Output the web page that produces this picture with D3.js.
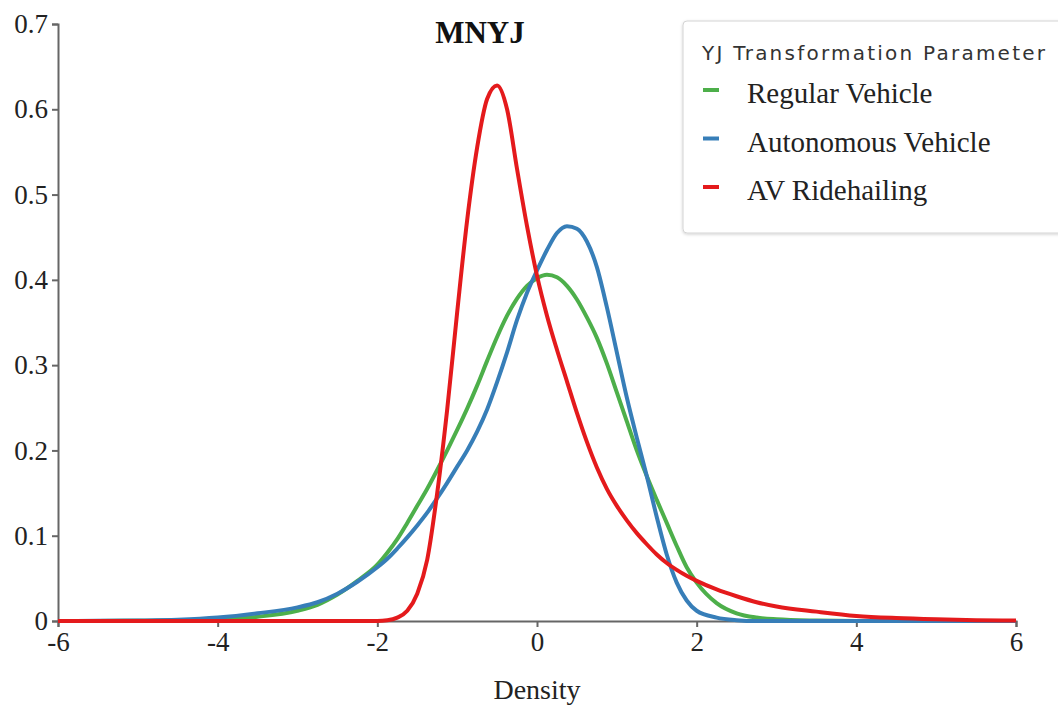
<!DOCTYPE html>
<html>
<head>
<meta charset="utf-8">
<script src="https://cdn.jsdelivr.net/npm/d3@7"></script>
<style>
  body { margin: 0; background: #fff; }
  .tick text { font-family: 'Liberation Serif', 'Times New Roman', serif; font-size: 27px; fill: #222; }
  .domain, .tick line { stroke: #666; stroke-width: 2; }
</style>
</head>
<body>
<svg width="1058" height="711"></svg>
<script>
const svg = d3.select('svg');

// x grid shared by all three density curves
const xGrid = [-6, -5.5, -5, -4.5, -4, -3.5, -3, -2.75, -2.5, -2.25,
  -2, -1.875, -1.75, -1.625, -1.5, -1.375, -1.25, -1.125, -1, -0.875, -0.75, -0.625,
  -0.5, -0.375, -0.25, -0.125, 0, 0.125, 0.25, 0.375, 0.5, 0.625, 0.75, 0.875,
  1, 1.125, 1.25, 1.375, 1.5, 1.625, 1.75, 1.875, 2,
  2.25, 2.5, 2.75, 3, 3.5, 4, 4.5, 5, 5.5, 6];

const regularVehicle = [0, 0, 0.0003, 0.0008, 0.002, 0.005, 0.012, 0.019, 0.031, 0.047,
  0.066, 0.08, 0.096, 0.115, 0.135, 0.155, 0.177, 0.2, 0.224, 0.249, 0.276, 0.305,
  0.333, 0.358, 0.378, 0.393, 0.402, 0.406, 0.403, 0.393, 0.377, 0.356, 0.332, 0.302,
  0.268, 0.234, 0.2, 0.17, 0.142, 0.115, 0.088, 0.063, 0.045,
  0.021, 0.009, 0.004, 0.002, 0.0005, 0, 0, 0, 0, 0];

const autonomousVehicle = [0, 0.0002, 0.0006, 0.0015, 0.004, 0.009, 0.016, 0.022, 0.032, 0.046,
  0.063, 0.073, 0.085, 0.098, 0.112, 0.127, 0.144, 0.162, 0.181, 0.2, 0.222, 0.248,
  0.28, 0.315, 0.353, 0.385, 0.411, 0.435, 0.455, 0.463, 0.46, 0.445, 0.415, 0.368,
  0.315, 0.262, 0.215, 0.17, 0.122, 0.078, 0.045, 0.024, 0.012,
  0.004, 0.001, 0, 0, 0, 0, 0, 0, 0, 0];

const avRidehailing = [0, 0, 0, 0, 0, 0, 0, 0, 0, 0,
  0, 0.0008, 0.004, 0.012, 0.032, 0.072, 0.15, 0.248, 0.362, 0.47, 0.555, 0.612,
  0.628, 0.6, 0.53, 0.463, 0.405, 0.358, 0.318, 0.281, 0.244, 0.21, 0.18, 0.155,
  0.135, 0.118, 0.103, 0.09, 0.078, 0.068, 0.06, 0.053, 0.047,
  0.037, 0.029, 0.022, 0.017, 0.011, 0.006, 0.0035, 0.002, 0.001, 0.0005];

const seriesNames = ['Regular Vehicle', 'Autonomous Vehicle', 'AV Ridehailing'];
const seriesValues = [regularVehicle, autonomousVehicle, avRidehailing];
const seriesColors = ['#4daf4a', '#377eb8', '#e41a1c'];

const xTicks = [-6, -4, -2, 0, 2, 4, 6];
const yTicks = [0, 0.1, 0.2, 0.3, 0.4, 0.5, 0.6, 0.7];

const xScale = d3.scaleLinear().domain([-6, 6]).range([58, 1016]);
const yScale = d3.scaleLinear().domain([0, 0.7]).range([621, 24]);

// axes
svg.append('g')
  .attr('transform', `translate(0, ${yScale(0)})`)
  .call(d3.axisBottom(xScale).tickValues(xTicks).tickSize(6).tickPadding(5).tickFormat(d => String(d)));

svg.append('g')
  .attr('transform', `translate(${xScale(-6)}, 0)`)
  .call(d3.axisLeft(yScale).tickValues(yTicks).tickSize(6).tickPadding(4).tickFormat(d => String(d)));

// curves
const line = d3.line()
  .x((d, i) => xScale(xGrid[i]))
  .y(d => yScale(d))
  .curve(d3.curveMonotoneX);

svg.append('g').selectAll('path')
  .data(seriesValues)
  .join('path')
    .attr('d', line)
    .attr('fill', 'none')
    .attr('stroke', (d, i) => seriesColors[i])
    .attr('stroke-width', 4)
    .attr('stroke-linejoin', 'round');

// titles
svg.append('text')
  .attr('x', 480)
  .attr('y', 43)
  .attr('text-anchor', 'middle')
  .attr('font-family', "'Liberation Serif', 'Times New Roman', serif")
  .attr('font-weight', 'bold')
  .attr('font-size', 31)
  .attr('fill', '#111')
  .text('MNYJ');

svg.append('text')
  .attr('x', xScale(0))
  .attr('y', 699)
  .attr('text-anchor', 'middle')
  .attr('font-family', "'Liberation Serif', 'Times New Roman', serif")
  .attr('font-size', 28)
  .attr('fill', '#222')
  .text('Density');

// legend
const defs = svg.append('defs');
const shadow = defs.append('filter').attr('id', 'shadow')
  .attr('x', '-5%').attr('y', '-5%').attr('width', '110%').attr('height', '115%');
shadow.append('feDropShadow')
  .attr('dx', 0).attr('dy', 1).attr('stdDeviation', 1.5)
  .attr('flood-color', '#000').attr('flood-opacity', 0.18);

const legend = svg.append('g').attr('transform', 'translate(683, 21)');
legend.append('rect')
  .attr('width', 420)
  .attr('height', 212)
  .attr('rx', 4)
  .attr('fill', '#fff')
  .attr('stroke', '#d4d4d4')
  .attr('filter', 'url(#shadow)');

legend.append('text')
  .attr('x', 19)
  .attr('y', 39)
  .attr('font-family', "'DejaVu Sans', Verdana, sans-serif")
  .attr('font-size', 20)
  .attr('textLength', 343)
  .attr('lengthAdjust', 'spacing')
  .attr('fill', '#333')
  .text('YJ Transformation Parameter');

const items = legend.selectAll('g.item')
  .data(seriesNames)
  .join('g')
    .attr('class', 'item')
    .attr('transform', (d, i) => `translate(0, ${82 + i * 48.5})`);

items.append('line')
  .attr('x1', 20).attr('x2', 36)
  .attr('y1', -13).attr('y2', -13)
  .attr('stroke', (d, i) => seriesColors[i])
  .attr('stroke-width', 4);

items.append('text')
  .attr('x', 64)
  .attr('y', 0)
  .attr('font-family', "'Liberation Serif', 'Times New Roman', serif")
  .attr('font-size', 29)
  .attr('fill', '#222')
  .text(d => d);
</script>
</body>
</html>
